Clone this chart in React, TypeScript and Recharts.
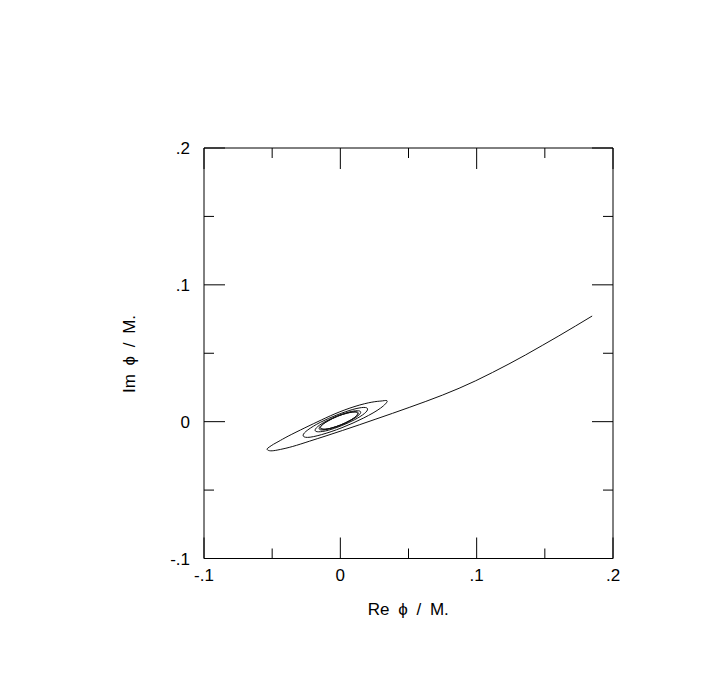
import React from 'react';
import { LineChart, Line, XAxis, YAxis } from 'recharts';

// incoming arm, from the upper right end down to the far left turn
const tailRe = [0.1847, 0.1725, 0.1603, 0.1481, 0.1359, 0.1237, 0.1115, 0.0993, 0.0871, 0.0749, 0.0627, 0.0505, 0.0383, 0.0261, 0.0139, 0.0017, -0.0105, -0.0227, -0.0349, -0.044, -0.05, -0.053, -0.0537];
const tailIm = [0.0772, 0.0699, 0.0627, 0.0557, 0.0488, 0.0422, 0.0359, 0.0299, 0.0244, 0.0194, 0.0148, 0.0104, 0.0061, 0.0019, -0.0023, -0.0064, -0.0104, -0.0143, -0.0181, -0.0203, -0.0213, -0.0209, -0.0199];

// upper side of the first (outer) loop
const outerRe = [-0.0522, -0.049, -0.045, -0.0383, -0.026, -0.0138, -0.0004, 0.0143, 0.0253, 0.031];
const outerIm = [-0.0186, -0.0165, -0.0143, -0.0106, -0.0045, 0.0013, 0.0072, 0.0122, 0.0146, 0.0152];

// inner turns closing in on the small ellipse around the origin
const coreRe = [
  0.0344, 0.0295, 0.0171, 0.0012, -0.0139, -0.0241, -0.0273, -0.0238, -0.0147, -0.0025, 0.0091, 0.0172,
  0.02, 0.0176, 0.0104, 0.0007, -0.0089, -0.0159, -0.0185, -0.0166, -0.0106, -0.0022, 0.0062, 0.0124,
  0.0149, 0.0134, 0.008, 0.0005, -0.0073, -0.0131, -0.0155, -0.0141, -0.0092, -0.0021, 0.0052, 0.0108,
  0.0132, 0.0118, 0.0072, 0.0004, -0.0066, -0.0121, -0.0145, -0.0133, -0.0087, -0.002, 0.0048, 0.0102,
  0.0126, 0.0114, 0.0069, 0.0003, -0.0064, -0.0118, -0.0142,
];
const coreIm = [
  0.015, 0.0099, 0.0027, -0.0044, -0.0095, -0.0115, -0.0099, -0.006, -0.0005, 0.0049, 0.0089, 0.0104,
  0.0092, 0.0059, 0.0014, -0.003, -0.0063, -0.0074, -0.0064, -0.0036, 0.0003, 0.0042, 0.007, 0.008,
  0.0071, 0.0046, 0.0011, -0.0025, -0.005, -0.0061, -0.0052, -0.0028, 0.0005, 0.0039, 0.0063, 0.0073,
  0.0064, 0.004, 0.0009, -0.0024, -0.0047, -0.0056, -0.0048, -0.0024, 0.0007, 0.004, 0.0062, 0.007,
  0.0062, 0.0039, 0.0008, -0.0023, -0.0046, -0.0055, -0.0047,
];

const ticks = [-0.1, -0.05, 0, 0.05, 0.1, 0.15, 0.2];
const tickLabels = ['-.1', '', '0', '', '.1', '', '.2'];

const data = [
  ...tailRe.map((re, i) => ({ re, im: tailIm[i] })),
  ...outerRe.map((re, i) => ({ re, im: outerIm[i] })),
  ...coreRe.map((re, i) => ({ re, im: coreIm[i] })),
];

const font = '"Liberation Sans", Arial, Helvetica, sans-serif';
const tickLen = (i: number) => (tickLabels[i] ? 21 : 10);

function BottomTick({ x, y, index }: any) {
  return (
    <g>
      <line x1={x} y1={y} x2={x} y2={y - tickLen(index)} stroke="#000" />
      <text x={x} y={y + 22} textAnchor="middle" fontSize={17} fontFamily={font} fill="#000">
        {tickLabels[index]}
      </text>
    </g>
  );
}

function TopTick({ x, y, index }: any) {
  return <line x1={x} y1={y} x2={x} y2={y + tickLen(index)} stroke="#000" />;
}

function LeftTick({ x, y, index }: any) {
  return (
    <g>
      <line x1={x} y1={y} x2={x + tickLen(index)} y2={y} stroke="#000" />
      <text x={x - 14} y={y} dy="0.36em" textAnchor="end" fontSize={17} fontFamily={font} fill="#000">
        {tickLabels[index]}
      </text>
    </g>
  );
}

function RightTick({ x, y, index }: any) {
  return <line x1={x} y1={y} x2={x - tickLen(index)} y2={y} stroke="#000" />;
}

export default function App() {
  return (
    <div style={{ width: 703, height: 680 }}>
      <LineChart width={703} height={680} data={data} margin={{ top: 130, right: 88, bottom: 89.5, left: 136 }}>
        <XAxis xAxisId="b" dataKey="re" type="number" domain={[-0.1, 0.2]} ticks={ticks} interval={0}
          allowDataOverflow height={40} tickSize={0} tickMargin={0} tickLine={false}
          axisLine={{ stroke: '#000' }} tick={<BottomTick />} />
        <XAxis xAxisId="t" orientation="top" dataKey="re" type="number" domain={[-0.1, 0.2]} ticks={ticks} interval={0}
          allowDataOverflow height={10} tickSize={0} tickMargin={0} tickLine={false}
          axisLine={{ stroke: '#000' }} tick={<TopTick />} />
        <YAxis yAxisId="l" dataKey="im" type="number" domain={[-0.1, 0.2]} ticks={ticks} interval={0}
          allowDataOverflow width={60} tickSize={0} tickMargin={0} tickLine={false}
          axisLine={{ stroke: '#000' }} tick={<LeftTick />} />
        <YAxis yAxisId="r" orientation="right" dataKey="im" type="number" domain={[-0.1, 0.2]} ticks={ticks} interval={0}
          allowDataOverflow width={10} tickSize={0} tickMargin={0} tickLine={false}
          axisLine={{ stroke: '#000' }} tick={<RightTick />} />
        <Line xAxisId="b" yAxisId="l" dataKey="im" type="natural" stroke="#111" strokeWidth={1}
          dot={false} activeDot={false} isAnimationActive={false} />
        <text x={400.3} y={607.3} textAnchor="middle" fontSize={17} fontFamily={font} wordSpacing={4} fill="#000">
          Re ϕ / M.
        </text>
        <text x={127} y={346} textAnchor="middle" fontSize={17} fontFamily={font} wordSpacing={4} fill="#000"
          transform="rotate(-90 127 346)">
          Im ϕ / M.
        </text>
      </LineChart>
    </div>
  );
}
